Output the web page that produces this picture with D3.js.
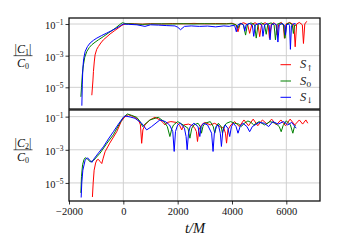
<!DOCTYPE html>
<html>
<head>
<meta charset="utf-8">
<script src="https://cdn.jsdelivr.net/npm/d3@7"></script>
<style>
  body { margin: 0; background: #fff; }
  svg { display: block; font-family: "Liberation Serif", "DejaVu Serif", serif; }
</style>
</head>
<body>
<div id="viz"></div>
<script>
// values: [t/M, log10(|C|/C0)]
var c1Up = [[-1160,-5.5],[-1120,-4.6],[-1100,-4.0],[-1070,-3.4],[-1040,-2.95],[-980,-2.6],[-917,-2.42],[-830,-2.2],[-734,-2.0],[-600,-1.8],[-488,-1.63],[-330,-1.43],[-183,-1.25],[-50,-1.08],[62,-1.0],[200,-0.97],[400,-0.99],[700,-1.01],[1000,-0.98],[1400,-1.0],[1800,-0.97],[2200,-0.99],[2600,-0.96],[3000,-0.99],[3400,-0.97],[3800,-0.98],[4000,-0.95],[4150,-1.05],[4220,-1.49],[4300,-1.0],[4430,-0.92],[4580,-1.05],[4650,-1.59],[4730,-1.02],[4850,-0.92],[4960,-1.05],[5020,-1.8],[5090,-1.02],[5220,-0.92],[5330,-1.05],[5380,-1.9],[5450,-1.0],[5550,-0.92],[5620,-1.05],[5660,-1.7],[5720,-1.02],[5820,-0.9],[5890,-1.05],[5930,-1.9],[5990,-1.0],[6120,-0.9],[6280,-1.05],[6326,-2.44],[6380,-1.0],[6480,-0.9],[6590,-1.05],[6631,-2.23],[6680,-1.0],[6753,-0.83]];
var c1Zero = [[-1563,-5.6],[-1540,-5.0],[-1510,-4.2],[-1468,-3.58],[-1420,-3.1],[-1343,-2.73],[-1250,-2.48],[-1160,-2.31],[-1040,-2.15],[-917,-2.0],[-740,-1.8],[-550,-1.57],[-300,-1.27],[-120,-1.02],[-37,-0.92],[100,-0.98],[400,-1.0],[700,-1.02],[1000,-1.0],[1400,-0.99],[1800,-1.0],[2200,-0.98],[2600,-1.0],[3000,-0.98],[3400,-1.0],[3800,-0.99],[4000,-0.98],[4150,-1.05],[4220,-1.27],[4300,-0.95],[4420,-1.05],[4500,-1.7],[4570,-1.02],[4700,-0.93],[4830,-1.05],[4893,-1.89],[4960,-1.02],[5080,-0.93],[5200,-1.05],[5260,-1.65],[5320,-1.0],[5440,-0.93],[5550,-1.05],[5600,-2.0],[5660,-1.02],[5780,-0.93],[5900,-1.05],[5950,-1.9],[6010,-1.0],[6130,-0.93],[6220,-1.05],[6260,-1.6],[6310,-1.05],[6360,-1.1]];
var c1Down = [[-1527,-6.16],[-1510,-4.8],[-1490,-3.79],[-1460,-3.2],[-1405,-2.73],[-1320,-2.42],[-1222,-2.2],[-1100,-2.03],[-976,-1.89],[-800,-1.73],[-609,-1.57],[-420,-1.41],[-242,-1.25],[-100,-1.1],[0,-1.0],[200,-1.02],[500,-1.05],[796,-1.15],[1000,-1.05],[1300,-1.07],[1600,-1.1],[1900,-1.12],[2000,-1.2],[2106,-1.36],[2250,-1.15],[2500,-1.12],[2800,-1.15],[3100,-1.13],[3400,-1.18],[3700,-1.12],[3900,-1.15],[4000,-1.1],[4100,-1.1],[4160,-1.49],[4220,-1.05],[4340,-0.97],[4430,-1.08],[4470,-1.45],[4520,-1.05],[4650,-0.97],[4750,-1.08],[4800,-1.78],[4860,-1.05],[5000,-0.97],[5100,-1.08],[5140,-1.78],[5200,-1.05],[5300,-0.97],[5370,-1.08],[5400,-2.0],[5450,-1.05],[5560,-0.97],[5650,-1.08],[5690,-2.14],[5740,-1.05],[5860,-0.97],[5940,-1.1],[5970,-1.7],[6010,-1.05],[6090,-1.0],[6120,-1.1],[6150,-2.6],[6190,-1.1],[6280,-0.97],[6350,-1.0]];

var c2Up = [[-1138,-5.85],[-1110,-5.0],[-1075,-4.23],[-1020,-3.8],[-976,-3.62],[-917,-3.58],[-860,-3.7],[-793,-3.83],[-740,-3.5],[-672,-3.12],[-500,-2.6],[-242,-1.91],[-80,-1.3],[62,-1.0],[183,-0.88],[350,-0.98],[550,-1.16],[630,-1.5],[675,-2.61],[720,-1.8],[795,-1.5],[980,-1.2],[1163,-1.04],[1350,-1.2],[1460,-1.35],[1530,-1.5],[1620,-1.35],[1750,-1.3],[1960,-1.35],[2080,-1.55],[2150,-1.8],[2230,-1.5],[2400,-1.45],[2550,-1.55],[2630,-1.7],[2690,-1.9],[2730,-2.5],[2780,-1.8],[2880,-1.5],[3000,-1.35],[3200,-1.5],[3365,-1.4],[3550,-1.6],[3700,-1.7],[3760,-2.0],[3800,-2.6],[3850,-1.8],[3960,-1.5],[4100,-1.3],[4270,-1.6],[4440,-1.2],[4610,-1.55],[4780,-1.15],[4950,-1.55],[5120,-1.2],[5290,-1.45],[5460,-1.15],[5630,-1.5],[5800,-1.2],[5970,-1.55],[6140,-1.15],[6310,-1.5],[6480,-1.2],[6600,-1.45],[6720,-1.2],[6790,-1.4]];
var c2Zero = [[-1563,-5.6],[-1540,-4.6],[-1500,-3.9],[-1450,-3.6],[-1405,-3.48],[-1320,-3.55],[-1222,-3.73],[-1100,-3.65],[-855,-3.2],[-600,-2.6],[-367,-2.1],[-150,-1.45],[0,-1.05],[147,-0.84],[300,-0.92],[490,-1.04],[620,-1.3],[710,-1.6],[800,-1.45],[980,-1.2],[1285,-1.04],[1500,-1.3],[1620,-1.6],[1714,-2.2],[1790,-1.7],[1850,-1.5],[2000,-1.3],[2200,-1.5],[2380,-1.7],[2450,-2.3],[2520,-1.7],[2600,-1.5],[2750,-1.4],[2830,-1.6],[2877,-2.0],[2930,-1.6],[3000,-1.4],[3200,-1.3],[3310,-1.6],[3366,-2.0],[3420,-1.6],[3500,-1.4],[3600,-1.6],[3650,-2.0],[3700,-1.6],[3800,-1.4],[3950,-1.3],[4099,-1.4],[4250,-1.45],[4343,-1.6],[4450,-1.4],[4587,-1.26],[4700,-1.35],[4800,-1.5],[5000,-1.3],[5200,-1.5],[5400,-1.3],[5600,-1.4],[5740,-1.6],[5811,-1.91],[5880,-1.55],[6000,-1.25],[6150,-1.5],[6240,-2.0],[6300,-1.6],[6340,-1.5]];
var c2Down = [[-1552,-5.88],[-1530,-5.0],[-1490,-4.23],[-1405,-3.62],[-1321,-3.48],[-1240,-3.62],[-1160,-3.76],[-1080,-3.55],[-976,-3.32],[-734,-2.82],[-550,-2.35],[-367,-1.91],[-180,-1.45],[0,-1.04],[62,-0.96],[250,-1.02],[429,-1.1],[675,-1.4],[859,-1.8],[1042,-1.6],[1347,-1.2],[1550,-1.3],[1700,-1.5],[1820,-1.9],[1872,-3.1],[1920,-1.9],[2000,-1.5],[2100,-1.4],[2250,-1.7],[2310,-2.2],[2350,-3.0],[2400,-2.0],[2460,-1.6],[2600,-1.4],[2750,-1.6],[2815,-2.2],[2870,-1.6],[2950,-1.4],[3100,-1.5],[3250,-2.0],[3303,-3.1],[3350,-2.0],[3420,-1.6],[3500,-1.5],[3570,-2.0],[3611,-2.8],[3660,-1.9],[3750,-1.5],[3850,-1.7],[3916,-2.2],[3980,-1.6],[4050,-1.4],[4150,-1.6],[4221,-2.0],[4300,-1.6],[4400,-1.4],[4550,-1.6],[4650,-1.91],[4750,-1.6],[4850,-1.5],[5000,-1.35],[5193,-1.4],[5350,-1.6],[5500,-1.3],[5700,-1.45],[5900,-1.3],[6050,-1.5],[6200,-1.35],[6363,-1.7]];

var seriesSubs = ["↑", "0", "↓"];
var seriesColors = ["#ff0000", "#008000", "#0000ff"];
var xTicks = [-2000, 0, 2000, 4000, 6000];
var yTicks = [-1, -3, -5];

var W = 338, H = 250;
var svg = d3.select("#viz").append("svg").attr("width", W).attr("height", H);

var x = d3.scaleLinear().domain([-2000, 7240]).range([69, 320]);

var panels = [
  { data: [c1Up, c1Zero, c1Down], domain: [-6.37, -0.62], top: 18, bottom: 109, sub: "1" },
  { data: [c2Up, c2Zero, c2Down], domain: [-6.09, -0.6], top: 110, bottom: 201, sub: "2" }
];

panels.forEach(function(p, pi) {
  var y = d3.scaleLog()
    .domain([Math.pow(10, p.domain[0]), Math.pow(10, p.domain[1])])
    .range([p.bottom, p.top]);

  var g = svg.append("g");
  var clipId = "clip" + pi;
  svg.append("clipPath").attr("id", clipId).append("rect")
    .attr("x", 69).attr("y", p.top).attr("width", 251).attr("height", p.bottom - p.top);

  // grid
  g.selectAll(".vg").data(xTicks.filter(function(d){ return d > -2000; })).enter().append("line")
    .attr("x1", function(d){ return x(d); }).attr("x2", function(d){ return x(d); })
    .attr("y1", p.top).attr("y2", p.bottom)
    .attr("stroke", "#d0d0d0").attr("stroke-width", 1);
  g.selectAll(".hg").data(yTicks).enter().append("line")
    .attr("x1", 69).attr("x2", 320)
    .attr("y1", function(d){ return y(Math.pow(10, d)); }).attr("y2", function(d){ return y(Math.pow(10, d)); })
    .attr("stroke", "#d0d0d0").attr("stroke-width", 1);

  var line = d3.line()
    .x(function(d){ return x(d[0]); })
    .y(function(d){ return y(Math.pow(10, d[1])); });

  var lg = g.append("g").attr("clip-path", "url(#" + clipId + ")");
  p.data.forEach(function(s, i) {
    lg.append("path").datum(s)
      .attr("d", line)
      .attr("fill", "none")
      .attr("stroke", seriesColors[i])
      .attr("stroke-width", 1)
      .attr("stroke-linejoin", "round");
  });

  // y axis
  var ya = g.append("g").attr("transform", "translate(69,0)")
    .call(d3.axisLeft(y).tickValues(yTicks.map(function(d){ return Math.pow(10, d); }))
      .tickSize(3.5).tickPadding(3).tickFormat(function(){ return "10"; }));
  ya.select(".domain").remove();
  ya.selectAll(".tick line").attr("stroke", "#000").attr("stroke-width", 0.8);
  ya.selectAll(".tick text")
    .attr("font-family", "Liberation Serif").attr("font-size", 10.5).attr("fill", "#111")
    .attr("dy", "0.42em")
    .each(function(d) {
      d3.select(this).append("tspan")
        .attr("dy", "-0.5em").attr("font-size", 7.5)
        .text("−" + Math.round(-Math.log10(d)));
    });
  ya.selectAll(".tick text").attr("x", -5.5);

  // y label fraction |C_n| / C_0
  var ly = (y(1e-3));
  var lab = g.append("g").attr("font-family", "Liberation Serif").attr("font-size", 12).attr("fill", "#111");
  var num = lab.append("text").attr("x", 23).attr("y", ly - 2.5).attr("text-anchor", "middle");
  num.append("tspan").text("|");
  num.append("tspan").attr("font-style", "italic").text("C");
  num.append("tspan").attr("font-size", 8).attr("dy", 2).text(p.sub);
  num.append("tspan").attr("dy", -2).text("|");
  lab.append("line").attr("x1", 13.5).attr("x2", 32.5).attr("y1", ly).attr("y2", ly)
    .attr("stroke", "#111").attr("stroke-width", 0.7);
  var den = lab.append("text").attr("x", 23).attr("y", ly + 11).attr("text-anchor", "middle");
  den.append("tspan").attr("font-style", "italic").text("C");
  den.append("tspan").attr("font-size", 8).attr("dy", 2).text("0");

  // frame
  g.append("rect").attr("x", 69).attr("y", p.top).attr("width", 251).attr("height", p.bottom - p.top)
    .attr("fill", "none").attr("stroke", "#111").attr("stroke-width", 1.3);
});

// x axis on bottom panel
var xa = svg.append("g").attr("transform", "translate(0,201)")
  .call(d3.axisBottom(x).tickValues(xTicks).tickSize(3.5).tickPadding(3.5)
    .tickFormat(function(d){ return d < 0 ? "−" + Math.abs(d) : String(d); }));
xa.select(".domain").remove();
xa.selectAll(".tick line").attr("stroke", "#000").attr("stroke-width", 0.8);
xa.selectAll(".tick text").attr("font-family", "Liberation Serif").attr("font-size", 10.5).attr("fill", "#111");

// x label
svg.append("text").attr("x", 195).attr("y", 233).attr("text-anchor", "middle")
  .attr("font-family", "Liberation Serif").attr("font-size", 14.5).attr("font-style", "italic")
  .attr("fill", "#111").text("t/M");

// legend
var legY = [64.7, 81, 97.3];
var leg = svg.append("g");
seriesSubs.forEach(function(s, i) {
  leg.append("line").attr("x1", 280.5).attr("x2", 291).attr("y1", legY[i]).attr("y2", legY[i])
    .attr("stroke", seriesColors[i]).attr("stroke-width", 1);
  var t = leg.append("text").attr("x", 300).attr("y", legY[i] + 3.5)
    .attr("font-family", "Liberation Serif").attr("font-size", 12.5).attr("fill", "#222");
  t.append("tspan").attr("font-style", "italic").text("S");
  t.append("tspan").attr("font-family", "DejaVu Serif").attr("font-size", 8).attr("dy", 2.5).text(s);
});
</script>
</body>
</html>
